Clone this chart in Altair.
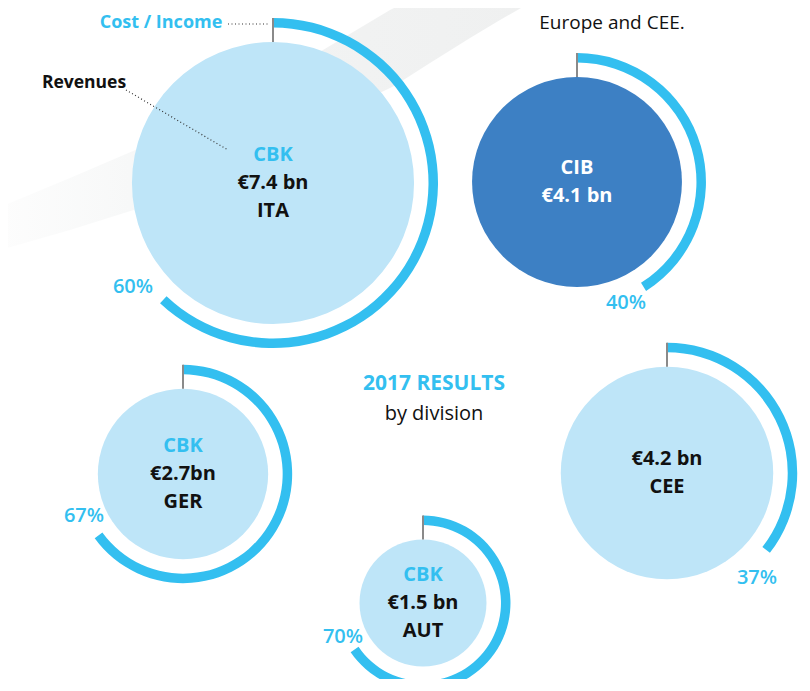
import math
import altair as alt

# ---------------- data values ----------------
divisions = ["ITA", "CIB", "GER", "AUT", "CEE"]
division_tags = ["CBK", "CIB", "CBK", "CBK", ""]
country_labels = ["ITA", "", "GER", "AUT", "CEE"]
revenues_bn = [7.4, 4.1, 2.7, 1.5, 4.2]
revenue_labels = ["€7.4 bn", "€4.1 bn", "€2.7bn", "€1.5 bn", "€4.2 bn"]
cost_income_pct = [60, 40, 67, 70, 37]
# share of the full turn that each Cost/Income ring covers, as drawn in the picture
ring_drawn_pct = [62, 41, 65, 65.5, 35.5]

# ---------------- layout (page pixels of the infographic) ----------------
bubble_x = [273, 577, 183, 423, 667]
bubble_y = [183, 182, 474, 603, 473]
pct_label_x = [133, 626, 84, 343, 757]
pct_label_y = [287, 303, 516, 637, 578]

# decorative background swoosh (kept inside the drawing area)
swoosh_x = [0, 70, 140, 230, 323, 390, 394, 430, 470, 500, 521]
swoosh_top = [207, 178, 148, 100, 50, 10, 8, 8, 8, 8, 8]
swoosh_bottom = [250, 230, 208, 165, 120, 88, 86, 63, 38, 20, 8]

# leader lines of the legend annotations
leader_x = [228, 126]
leader_y = [24, 90]
leader_x2 = [270, 228]
leader_y2 = [24, 150]

BLUE = "#33bff0"
LIGHT = "#bee5f8"
DARK = "#3d80c4"
FONT = "Open Sans"

# ---------------- tables ----------------
bubbles = []
for i, d in enumerate(divisions):
    parts = []
    if division_tags[i]:
        parts.append(("tag", division_tags[i]))
    parts.append(("value", revenue_labels[i]))
    if country_labels[i]:
        parts.append(("country", country_labels[i]))
    bubbles.append({
        "division": d,
        "rev": revenues_bn[i],
        "ring": ring_drawn_pct[i],
        "zero": 0,
        "pct_label": f"{cost_income_pct[i]}%",
        "cx": bubble_x[i],
        "cy": bubble_y[i],
        "lx": pct_label_x[i],
        "ly": pct_label_y[i],
        "tag_lines": [t if k == "tag" else "" for k, t in parts],
        "main_lines": ["" if k == "tag" else t for k, t in parts],
    })

swoosh = [{"cx": x, "cy": t, "cy2": b} for x, t, b in zip(swoosh_x, swoosh_top, swoosh_bottom)]
leaders = [{"cx": a, "cy": b, "cx2": c, "cy2": d}
           for a, b, c, d in zip(leader_x, leader_y, leader_x2, leader_y2)]

W, H = 794, 671
LINE_H = 28
xs = alt.Scale(domain=[8, 8 + W], nice=False, zero=False)
ys = alt.Scale(domain=[8, 8 + H], nice=False, zero=False, reverse=True)
rs = alt.Scale(type="sqrt", domain=[0, 7.4], range=[0, 141], zero=True)

X = alt.X("cx:Q", scale=xs, axis=None)
Y = alt.Y("cy:Q", scale=ys, axis=None)

bdata = alt.Data(values=bubbles)

swoosh_layer = alt.Chart(alt.Data(values=swoosh)).mark_area(
    color=alt.Gradient(
        gradient="linear",
        stops=[alt.GradientStop(color="#fdfdfd", offset=0),
               alt.GradientStop(color="#f7f8f8", offset=0.25),
               alt.GradientStop(color="#f2f3f3", offset=0.55),
               alt.GradientStop(color="#eff0f0", offset=1)],
        x1=0, x2=1, y1=0, y2=0,
    )
).encode(x=X, y=Y, y2="cy2:Q")

leader_layer = alt.Chart(alt.Data(values=leaders)).mark_rule(
    color="#333333", strokeDash=[1, 2.5], strokeWidth=1.2
).encode(x=X, y=Y, x2="cx2:Q", y2="cy2:Q")

circles = alt.Chart(bdata).mark_arc(theta=0, theta2=2 * math.pi).encode(
    x=X, y=Y,
    radius=alt.Radius("rev:Q", scale=rs, stack=None),
    color=alt.condition(alt.datum.division == "CIB", alt.value(DARK), alt.value(LIGHT)),
)

rings = alt.Chart(bdata).mark_arc(color=BLUE, radiusOffset=24, radius2Offset=14.5).encode(
    x=X, y=Y,
    radius=alt.Radius("rev:Q", scale=rs, stack=None),
    radius2="rev:Q",
    theta=alt.Theta("ring:Q", scale=alt.Scale(domain=[0, 100], range=[0, 2 * math.pi]), stack=None),
    theta2="zero:Q",
)

ticks = alt.Chart(bdata).mark_arc(
    theta=0, theta2=0, radiusOffset=24, radius2Offset=0,
    stroke="#8a8a8a", strokeWidth=2, fill="transparent",
).encode(
    x=X, y=Y,
    radius=alt.Radius("rev:Q", scale=rs, stack=None),
    radius2="rev:Q",
)

txt = dict(font=FONT, fontSize=20, fontWeight="bold", lineHeight=LINE_H,
           align="center", baseline="middle")
TY = alt.Y("ty:Q", scale=ys, axis=None)
centre_block = f"datum.cy - (length(datum.main_lines) - 1) * {LINE_H / 2}"

tag_text = alt.Chart(bdata).transform_calculate(ty=centre_block).mark_text(**txt).encode(
    x=X, y=TY, text="tag_lines:N",
    color=alt.condition(alt.datum.division == "CIB", alt.value("white"), alt.value(BLUE)),
)
main_text = alt.Chart(bdata).transform_calculate(ty=centre_block).mark_text(**txt).encode(
    x=X, y=TY, text="main_lines:N",
    color=alt.condition(alt.datum.division == "CIB", alt.value("white"), alt.value("#111111")),
)
pct_text = alt.Chart(bdata).mark_text(
    font=FONT, fontSize=20, fontWeight=600, color=BLUE, align="center", baseline="middle"
).encode(x=alt.X("lx:Q", scale=xs, axis=None), y=alt.Y("ly:Q", scale=ys, axis=None), text="pct_label:N")


def label(text, x, y, size, weight, color):
    return alt.Chart(alt.Data(values=[{"cx": x, "cy": y, "t": text}])).mark_text(
        font=FONT, fontSize=size, fontWeight=weight, color=color,
        align="center", baseline="middle"
    ).encode(x=X, y=Y, text="t:N")


annots = [
    label("Cost / Income", 161, 23, 18, "bold", BLUE),
    label("Revenues", 84, 83, 17.5, "bold", "#111111"),
    label("2017 RESULTS", 434, 384, 21, "bold", BLUE),
    label("by division", 434, 414, 20, "normal", "#111111"),
    label("Europe and CEE.", 612, 23, 19, "normal", "#111111"),
]

chart = alt.layer(
    swoosh_layer, circles, rings, ticks, leader_layer, tag_text, main_text, pct_text, *annots
).properties(
    width=W, height=H, padding=0, autosize="none", background="white"
).configure_view(stroke=None)

chart.save("out.html", embed_options={"renderer": "svg", "actions": False})
